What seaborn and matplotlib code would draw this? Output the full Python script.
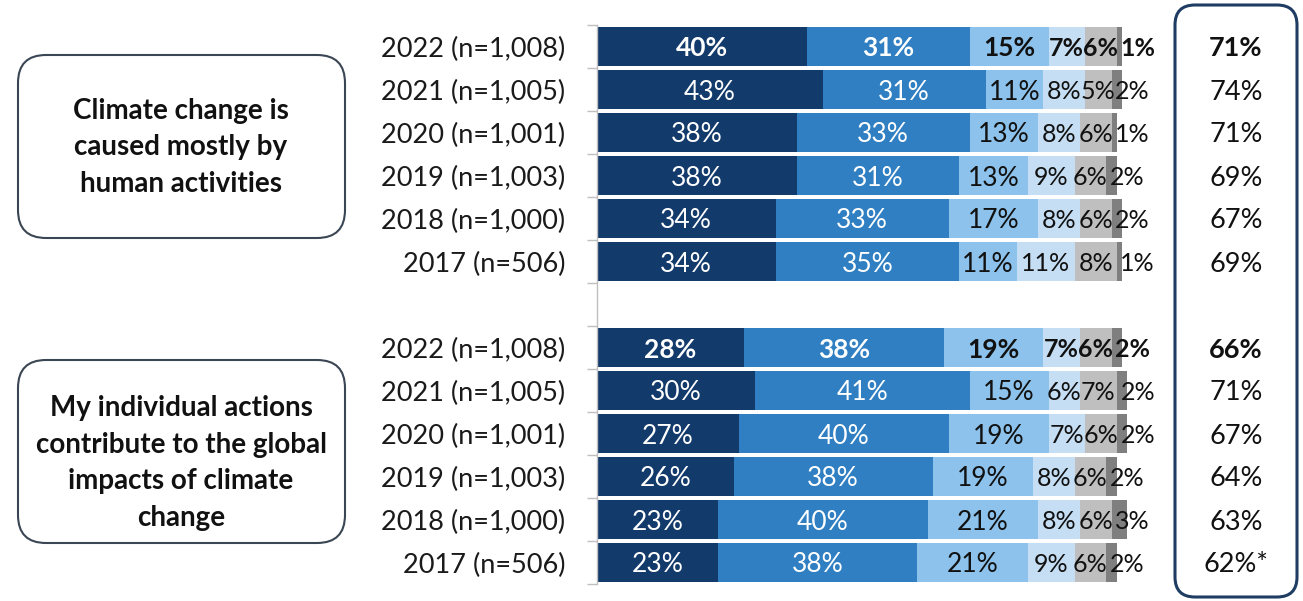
import matplotlib
matplotlib.use("Agg")
import matplotlib.pyplot as plt
from matplotlib.patches import FancyBboxPatch
import seaborn as sns
import numpy as np
import pandas as pd

# ---------------- data ----------------
row_labels = ["2022 (n=1,008)", "2021 (n=1,005)", "2020 (n=1,001)",
              "2019 (n=1,003)", "2018 (n=1,000)", "2017 (n=506)"]

# Statement 1: Climate change is caused mostly by human activities
s1_seg1 = [40, 43, 38, 38, 34, 34]
s1_seg2 = [31, 31, 33, 31, 33, 35]
s1_seg3 = [15, 11, 13, 13, 17, 11]
s1_seg4 = [7, 8, 8, 9, 8, 11]
s1_seg5 = [6, 5, 6, 6, 6, 8]
s1_seg6 = [1, 2, 1, 2, 2, 1]
s1_net = ["71%", "74%", "71%", "69%", "67%", "69%"]

# Statement 2: My individual actions contribute to the global impacts
s2_seg1 = [28, 30, 27, 26, 23, 23]
s2_seg2 = [38, 41, 40, 38, 40, 38]
s2_seg3 = [19, 15, 19, 19, 21, 21]
s2_seg4 = [7, 6, 7, 8, 8, 9]
s2_seg5 = [6, 7, 6, 6, 6, 6]
s2_seg6 = [2, 2, 2, 2, 3, 2]
s2_net = ["66%", "71%", "67%", "64%", "63%", "62%*"]

statement1 = "Climate change is\ncaused mostly by\nhuman activities"
statement2 = "My individual actions\ncontribute to the global\nimpacts of climate\nchange"

seg_colors = ["#123a6b", "#2f7fc2", "#8cc2eb", "#c6def3", "#bfbfbf", "#7f7f7f"]

# ---------------- build table ----------------
s1 = [s1_seg1, s1_seg2, s1_seg3, s1_seg4, s1_seg5, s1_seg6]
s2 = [s2_seg1, s2_seg2, s2_seg3, s2_seg4, s2_seg5, s2_seg6]
ids1 = [f"a{i}" for i in range(6)]
ids2 = [f"b{i}" for i in range(6)]
order = ids1 + ["gap"] + ids2
tick_text = row_labels + [""] + row_labels
bold_rows = {"a0", "b0"}

recs = []
for ids, segs, nets in ((ids1, s1, s1_net), (ids2, s2, s2_net)):
    for r, rid in enumerate(ids):
        rec = {"row": rid, "net": nets[r]}
        for k in range(6):
            rec[f"s{k}"] = segs[k][r]
        recs.append(rec)
df = pd.DataFrame(recs)
seg_cols = [f"s{k}" for k in range(6)]
cum = df[seg_cols].cumsum(axis=1)
for k in range(6):
    df[f"c{k}"] = cum[f"s{k}"]

# ---------------- figure ----------------
sns.set_theme(style="white")
plt.rcParams["font.family"] = ["Lato", "DejaVu Sans"]

W, H = 1303, 601
fig = plt.figure(figsize=(W / 100, H / 100), dpi=100)
fig.patch.set_facecolor("white")

ax = fig.add_axes([597 / W, 1 - 584 / H, 525 / W, 559 / H])

for k in range(5, -1, -1):
    sns.barplot(data=df, x=f"c{k}", y="row", order=order, orient="h",
                color=seg_colors[k], saturation=1, width=0.92,
                errorbar=None, linewidth=0, ax=ax)
for p in ax.patches:
    p.set_clip_on(False)

ax.set_xlim(0, 100)
ax.set_ylim(12.5, -0.5)
ax.set_xlabel("")
ax.set_ylabel("")
ax.set_xticks([])
ax.set_yticks(range(len(order)))
ax.set_yticklabels(tick_text, fontsize=19.5, color="#1a1a1a")
ax.set_yticks(np.arange(-0.5, len(order), 1.0), minor=True)
ax.tick_params(axis="y", which="major", length=0, pad=23)
ax.tick_params(axis="y", which="minor", length=7, width=1, color="#bfbfbf", left=True)
for s in ["top", "right", "bottom"]:
    ax.spines[s].set_visible(False)
ax.spines["left"].set_color("#bfbfbf")
ax.spines["left"].set_linewidth(1)
ax.set_facecolor("none")

# segment labels
pos = {rid: i for i, rid in enumerate(order)}
for _, r in df.iterrows():
    y = pos[r["row"]]
    bold = r["row"] in bold_rows
    start = 0
    for k in range(6):
        v = r[f"s{k}"]
        col = "white" if k < 2 else "#111111"
        fs = 19 if k < 3 else 18
        if k < 5:
            ax.text(start + v / 2, y, f"{v}%", ha="center", va="center_baseline",
                    fontsize=fs, color=col, fontweight="bold" if bold else "normal",
                    clip_on=False)
        else:
            ax.text(start + 0.7, y, f"{v}%", ha="left", va="center_baseline",
                    fontsize=fs, color=col, fontweight="bold" if bold else "normal",
                    clip_on=False)
        start += v

# ---------------- overlay (pixel coordinates) ----------------
ov = fig.add_axes([0, 0, 1, 1])
ov.set_xlim(0, W)
ov.set_ylim(H, 0)
ov.axis("off")
ov.patch.set_visible(False)

def rbox(x0, y0, x1, y1, r, ec, lw):
    ov.add_patch(FancyBboxPatch((x0 + r, y0 + r), (x1 - x0) - 2 * r, (y1 - y0) - 2 * r,
                                boxstyle=f"round,pad={r}", fc="none", ec=ec, lw=lw))

rbox(18, 55, 345, 238, 28, "#3a4654", 1.5)
rbox(18, 360, 345, 543, 28, "#3a4654", 1.5)
rbox(1175, 5, 1297, 597, 20, "#1f3d63", 2.2)

ov.text(181, 147, statement1, ha="center", va="center", fontsize=20,
        fontweight="bold", color="#111111", linespacing=1.5)
ov.text(181, 463, statement2, ha="center", va="center", fontsize=20,
        fontweight="bold", color="#111111", linespacing=1.5)

# net values
for _, r in df.iterrows():
    yi = pos[r["row"]]
    ypix = 25 + (yi + 0.5) * 43
    ov.text(1236, ypix, r["net"], ha="center", va="center_baseline", fontsize=19.5,
            color="#111111", fontweight="bold" if r["row"] in bold_rows else "normal")

fig.savefig("out.png", dpi=100, facecolor="white")
